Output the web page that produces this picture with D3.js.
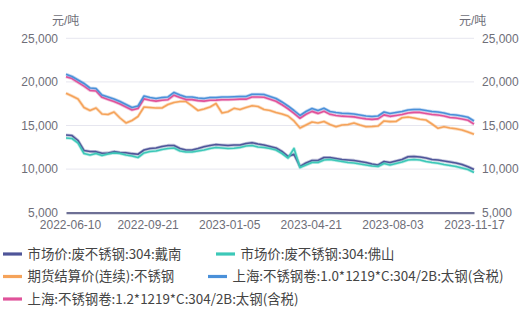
<!DOCTYPE html>
<html>
<head>
<meta charset="utf-8">
<script src="https://cdn.jsdelivr.net/npm/d3@7"></script>
<style>
  html, body { margin: 0; padding: 0; background: #fff; }
  svg { display: block; font-family: "Liberation Sans", Arial, "Noto Sans CJK SC", sans-serif; }
</style>
</head>
<body>
<div id="chart"></div>
<script>
// x-axis tick labels (evenly spaced over the trading days)
const tickLabels = ['2022-06-10', '2022-09-21', '2023-01-05', '2023-04-21', '2023-08-03', '2023-11-17'];
const yTicks = [5000, 10000, 15000, 20000, 25000];

const seriesNames = [
  '市场价:废不锈钢:304:戴南',
  '市场价:废不锈钢:304:佛山',
  '期货结算价(连续):不锈钢',
  '上海:不锈钢卷:1.0*1219*C:304/2B:太钢(含税)',
  '上海:不锈钢卷:1.2*1219*C:304/2B:太钢(含税)'
];
const seriesColors = ['#4f5599', '#3cc8b8', '#f5a35a', '#4a90d9', '#e0529a'];

// sampled values, 元/吨
const daiNan = [13910, 13850, 13280, 12130, 12020, 12000, 11810, 11850, 12000, 11900, 11880, 11770, 11700, 12190,
  12360, 12420, 12590, 12710, 12710, 12360, 12190, 12190, 12360, 12570, 12710, 12820, 12760, 12710, 12760, 12760,
  12940, 13030, 12880, 12760, 12590, 12420, 12020, 11450, 11700, 10300, 10700, 10990, 10990, 11330, 11330, 11220,
  11100, 11040, 10990, 10870, 10760, 10590, 10470, 10870, 10760, 10930, 11100, 11420, 11450, 11390, 11270, 11100,
  11040, 10930, 10820, 10700, 10530, 10280, 9960];
const foShan = [13570, 13510, 12990, 11790, 11620, 11790, 11560, 11730, 11850, 11790, 11620, 11500, 11330, 11850,
  12020, 12080, 12250, 12360, 12420, 12080, 11960, 11960, 12080, 12190, 12360, 12480, 12420, 12360, 12390, 12480,
  12650, 12710, 12540, 12480, 12360, 12190, 11790, 11270, 12360, 10180, 10470, 10760, 10760, 11040, 11100, 10990,
  10870, 10760, 10700, 10590, 10470, 10360, 10300, 10640, 10470, 10640, 10810, 11040, 11100, 11040, 10870, 10760,
  10670, 10530, 10410, 10300, 10130, 9960, 9620];
const futures = [18690, 18380, 18040, 17060, 16720, 17010, 16320, 16260, 16550, 15860, 15290, 15570, 16030, 17120,
  17060, 17010, 17010, 17410, 17640, 17750, 17750, 17240, 16720, 16890, 17120, 17520, 16430, 16580, 16970, 16830,
  17060, 17270, 17180, 16830, 16720, 16490, 16320, 16090, 15520, 14710, 15060, 15400, 15290, 15460, 15110, 14860,
  15060, 15110, 15290, 15060, 14860, 14880, 14940, 15520, 15440, 15460, 15890, 15970, 15860, 15720, 15630, 15170,
  14680, 14860, 14710, 14620, 14480, 14250, 13990];
const coil10 = [20870, 20620, 20220, 19820, 19300, 19240, 18500, 18270, 18040, 17750, 17410, 17060, 17240, 18380,
  18210, 18100, 18210, 18270, 18790, 18500, 18270, 18270, 18150, 18100, 18210, 18210, 18270, 18270, 18300, 18330,
  18330, 18580, 18580, 18560, 18330, 18100, 17700, 17240, 16720, 16150, 16610, 16950, 16720, 16970, 16610, 16490,
  16400, 16380, 16320, 16200, 16090, 16030, 16090, 16550, 16380, 16490, 16610, 16780, 16840, 16840, 16720, 16610,
  16550, 16430, 16260, 16200, 16090, 15940, 15520];
const coil12 = [20600, 20380, 19950, 19520, 19020, 18960, 18230, 17990, 17750, 17460, 17120, 16780, 16950, 18050,
  17900, 17800, 17900, 17960, 18480, 18200, 17970, 17970, 17850, 17800, 17900, 17910, 17960, 17960, 17990, 18020,
  18020, 18260, 18260, 18240, 18010, 17780, 17380, 16920, 16400, 15830, 16290, 16620, 16390, 16640, 16280, 16150,
  16070, 16040, 15990, 15870, 15760, 15700, 15760, 16220, 16050, 16150, 16260, 16430, 16500, 16500, 16380, 16270,
  16200, 16090, 15920, 15860, 15750, 15600, 15150];

const allSeries = [daiNan, foShan, futures, coil10, coil12];
// draw order: lower group first, coils on top
const drawOrder = [2, 0, 1, 4, 3];

const W = 519, H = 310;
const margin = { left: 66, right: 45, top: 38.3, bottom: 97.3 };
const n = daiNan.length;

const svg = d3.select('#chart').append('svg').attr('width', W).attr('height', H);

const x = d3.scaleLinear().domain([0, n - 1]).range([margin.left, W - margin.right]);
const y = d3.scaleLinear().domain([5000, 25000]).range([H - margin.bottom, margin.top]);

// grid lines
svg.append('g')
  .selectAll('line')
  .data(yTicks.filter(d => d !== 5000))
  .join('line')
  .attr('x1', margin.left).attr('x2', W - margin.right)
  .attr('y1', d => y(d)).attr('y2', d => y(d))
  .attr('stroke', '#e6e6ef').attr('stroke-width', 1);

const fmt = d3.format(',');

// left axis
const yLeft = svg.append('g')
  .attr('transform', `translate(${margin.left - 8},0)`)
  .call(d3.axisLeft(y).tickValues(yTicks).tickFormat(fmt).tickSize(0).tickPadding(0));
yLeft.select('.domain').remove();

// right axis
const yRight = svg.append('g')
  .attr('transform', `translate(${W - margin.right + 8},0)`)
  .call(d3.axisRight(y).tickValues(yTicks).tickFormat(fmt).tickSize(0).tickPadding(0));
yRight.select('.domain').remove();

[yLeft, yRight].forEach(g => g.selectAll('text')
  .attr('fill', '#6e6e78').attr('font-size', '12px')
  .attr('font-family', '"Liberation Sans", Arial, sans-serif'));

// unit labels
svg.append('text').attr('x', 52).attr('y', 25).attr('fill', '#6e6e78')
  .attr('font-size', '12px').text('元/吨');
svg.append('text').attr('x', 459).attr('y', 25).attr('fill', '#6e6e78')
  .attr('font-size', '12px').text('元/吨');

// bottom axis
const xAxis = svg.append('g')
  .attr('transform', `translate(0,${y(5000)})`)
  .call(d3.axisBottom(x)
    .tickValues(tickLabels.map((_, i) => i * (n - 1) / (tickLabels.length - 1)))
    .tickFormat((_, i) => tickLabels[i])
    .tickSize(0).tickPadding(8));
xAxis.select('.domain').attr('stroke', '#6e7095').attr('stroke-width', 2.2);
xAxis.selectAll('text')
  .attr('fill', '#6e6e78').attr('font-size', '12px')
  .attr('font-family', '"Liberation Sans", Arial, sans-serif');
xAxis.selectAll('.tick').filter((_, i) => i === 0).select('text').attr('dx', 4);

// lines
const line = d3.line().x((d, i) => x(i)).y(d => y(d));
drawOrder.forEach(si => {
  svg.append('path')
    .datum(allSeries[si])
    .attr('d', line)
    .attr('fill', 'none')
    .attr('stroke', seriesColors[si])
    .attr('stroke-opacity', 0.35)
    .attr('stroke-width', 3.2)
    .attr('stroke-linejoin', 'round');
  svg.append('path')
    .datum(allSeries[si])
    .attr('d', line)
    .attr('fill', 'none')
    .attr('stroke', seriesColors[si])
    .attr('stroke-width', 1.6)
    .attr('stroke-linejoin', 'round');
});

// legend
const legendPos = [
  { x: 3, y: 254 }, { x: 216, y: 254 },
  { x: 3, y: 276.5 }, { x: 208, y: 276.5 },
  { x: 3, y: 299 }
];
const legend = svg.append('g');
seriesNames.forEach((name, i) => {
  const p = legendPos[i];
  const g = legend.append('g').attr('transform', `translate(${p.x},${p.y})`);
  g.append('line').attr('x1', 0).attr('x2', 19).attr('y1', 0).attr('y2', 0)
    .attr('stroke', seriesColors[i]).attr('stroke-width', 3.2);
  g.append('text').attr('x', 24.5).attr('y', 0).attr('dy', '0.36em')
    .attr('fill', '#444').attr('font-size', '13.4px')
    .attr('font-family', '"Noto Sans CJK SC", "Liberation Sans", sans-serif')
    .text(name);
});
</script>
</body>
</html>
